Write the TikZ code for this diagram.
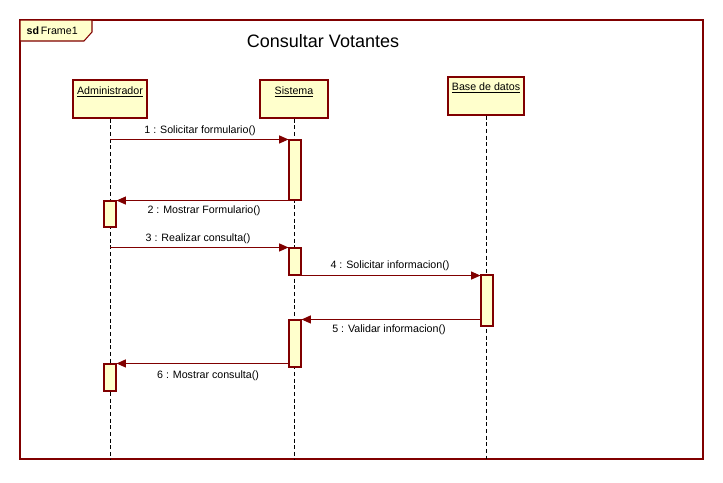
\documentclass[tikz,border=0pt]{standalone}
\usepackage{fontspec}
\setmainfont{Liberation Sans}
\usetikzlibrary{arrows.meta}
\definecolor{umlred}{RGB}{128,0,0}
\definecolor{umlfill}{RGB}{255,255,204}

\begin{document}
\begin{tikzpicture}
[x=0.75pt,y=-0.75pt,
%%%%%%%%%%%%%%%%%%%%%%%%%%%%%%
head/.style={rectangle,draw=umlred,fill=umlfill,thick,minimum height=28.5pt,inner sep=0pt},
act/.style={rectangle,draw=umlred,fill=umlfill,thick,minimum width=9pt,inner sep=0pt},
life/.style={line width=0.75pt,dash pattern=on 3pt off 2pt},
msg/.style={draw=umlred,thick,-{Triangle[length=7pt,width=6pt,fill=umlred]}},
lbl/.style={font=\fontsize{8}{9}\selectfont},
]%%%%%%%%%%%%%%%%%%%%%%%%%%%%%%
\useasboundingbox (0,0) rectangle (723,482);

% frame
\draw[umlred,thick] (20,20) rectangle (703,459);
\draw[umlred,thick,fill=umlfill] (20,20) -- (92,20) -- (92,32) -- (84,41) -- (20,41) -- cycle;
\node[lbl,anchor=west] (tag) at (22,31) {\textbf{sd}\,Frame1};
\node[font=\fontsize{13.5}{15}\selectfont] (title) at (323,41) {Consultar Votantes};

% lifelines
\node[head,minimum width=55.5pt] (admin) at (110,99) {};
\node[head,minimum width=51pt] (sis) at (294,99) {};
\node[head,minimum width=57pt] (db) at (486,96) {};
\node[lbl,anchor=north,yshift=-2pt] at (admin.north) {\underline{Administrador}};
\node[lbl,anchor=north,yshift=-2pt] at (sis.north) {\underline{Sistema}};
\node[lbl,anchor=north,yshift=-1pt] at (db.north) {\underline{Base de datos}};

\coordinate (adminend) at (110,459);
\coordinate (sisend) at (294,459);
\coordinate (dbend) at (486,459);
\draw[life] (admin) -- (adminend);
\draw[life] (sis) -- (sisend);
\draw[life] (db) -- (dbend);

% activations
\node[act,minimum height=45pt] (s1) at (295,170) {};
\node[act,minimum height=19.5pt] (a1) at (110,214) {};
\node[act,minimum height=20.25pt] (s2) at (295,261.5) {};
\node[act,minimum height=38.25pt] (d1) at (487,300.5) {};
\node[act,minimum height=35.25pt] (s3) at (295,343.5) {};
\node[act,minimum height=20.25pt] (a2) at (110,377.5) {};

% messages
\draw[msg] (s1.north west -| admin) -- (s1.north west);
\node[lbl] at (200,131) {1 : Solicitar formulario()};

\draw[msg] (s1.south) -- (s1.south -| a1.east);
\node[lbl] at (204,211) {2 : Mostrar Formulario()};

\draw[msg] (s2.north west -| admin) -- (s2.north west);
\node[lbl] at (198,239) {3 : Realizar consulta()};

\draw[msg] (s2.south east) -- (s2.south east -| d1.west);
\node[lbl] at (390,266) {4 : Solicitar informacion()};

\draw[msg] (s3.north -| d1.west) -- (s3.north east);
\node[lbl] at (389,330) {5 : Validar informacion()};

\draw[msg] (a2.north -| s3.west) -- (a2.north east);
\node[lbl] at (208,376) {6 : Mostrar consulta()};
\end{tikzpicture}
\end{document}
